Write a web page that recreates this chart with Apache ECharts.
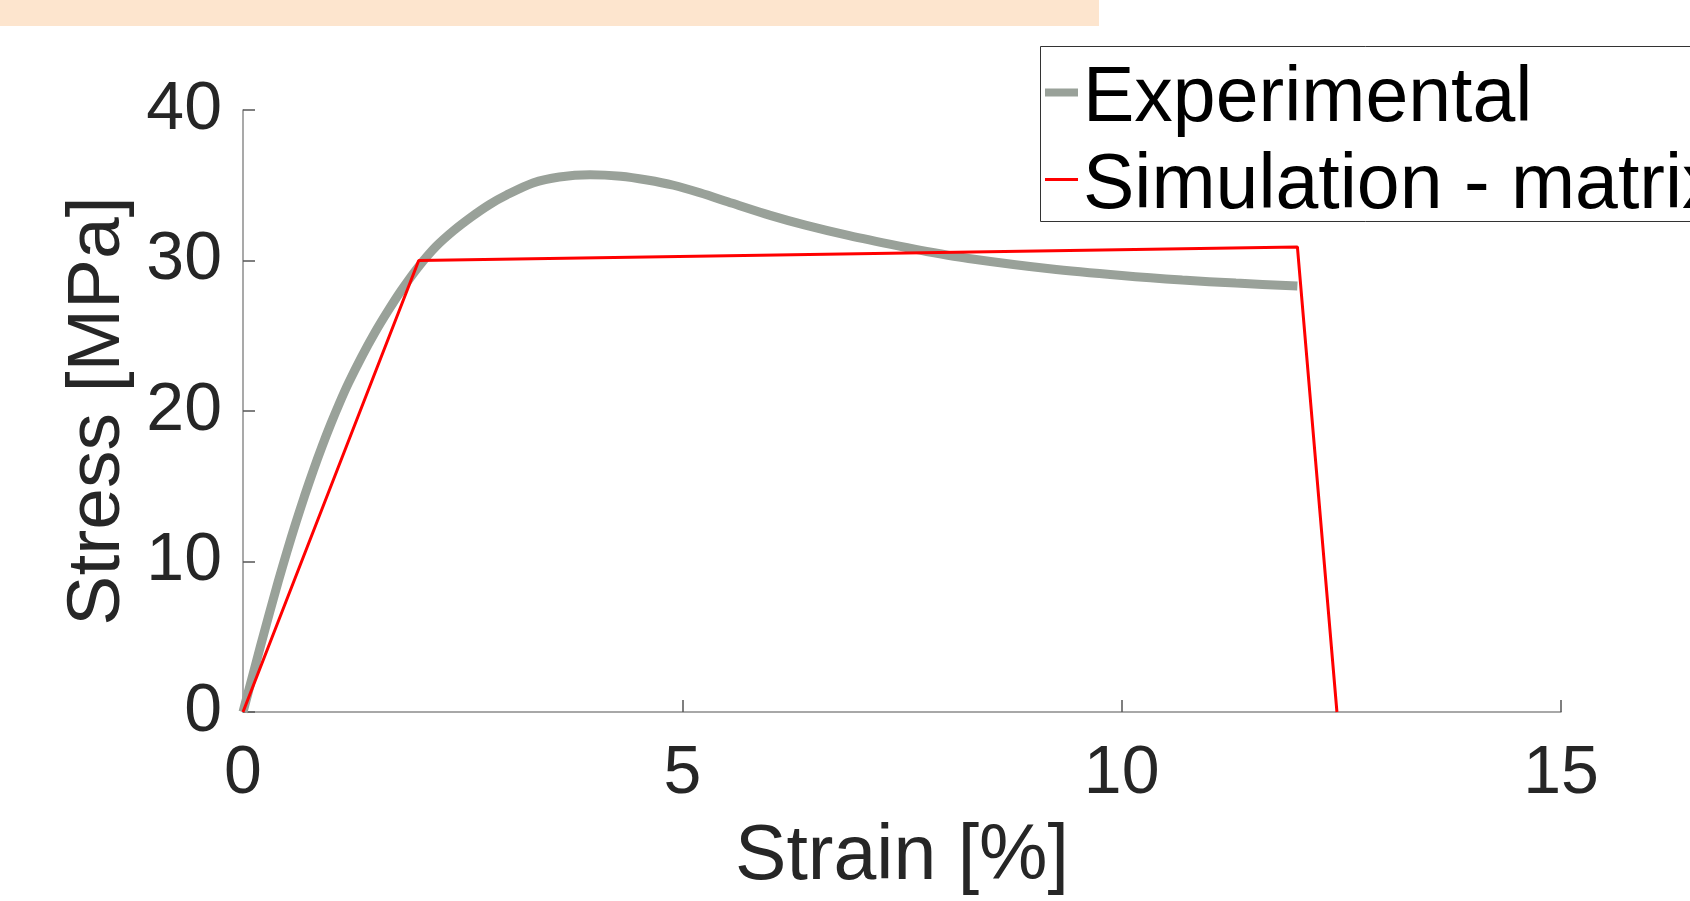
<!DOCTYPE html>
<html>
<head>
<meta charset="utf-8">
<script src="https://cdn.jsdelivr.net/npm/echarts@6/dist/echarts.min.js"></script>
<style>
html,body{margin:0;padding:0;background:#fff;}
#chart{width:1690px;height:901px;}
</style>
</head>
<body>
<div id="chart"></div>
<script>
// Data
const expStrain = [0, 0.1, 0.2, 0.3, 0.4, 0.5, 0.6, 0.7, 0.8, 0.9, 1.0, 1.1, 1.2, 1.35, 1.5, 1.65, 1.8, 2.0, 2.2, 2.4, 2.6, 2.8, 3.0, 3.3, 3.6, 3.95, 4.3, 4.6, 4.9, 5.2, 5.57, 6.0, 6.4, 6.9, 7.47, 7.78, 8.3, 9.18, 10.0, 10.69, 11.3, 12.0];
const expStress = [0, 2.2, 4.4, 6.55, 8.65, 10.65, 12.55, 14.35, 16.05, 17.65, 19.15, 20.55, 21.85, 23.6, 25.2, 26.65, 28.0, 29.6, 30.95, 32.0, 32.9, 33.7, 34.35, 35.15, 35.55, 35.7, 35.6, 35.35, 35.0, 34.5, 33.8, 33.0, 32.35, 31.65, 30.95, 30.6, 30.1, 29.45, 29.0, 28.7, 28.5, 28.3];
const simStrain = [0, 2.0, 12.0, 12.45];
const simStress = [0, 30.0, 30.9, 0];
const seriesNames = ['Experimental', 'Simulation - matrix'];
const xTicks = [0, 5, 10, 15];
const yTicks = [0, 10, 20, 30, 40];
const xName = 'Strain [%]';
const yName = 'Stress [MPa]';

const FONT = "'Liberation Sans', Arial, Helvetica, sans-serif";
const GRAY = '#99A199';
const RED = '#ff0000';
const chart = echarts.init(document.getElementById('chart'), null, {renderer: 'canvas'});

const zip = (a, b) => a.map((v, i) => [v, b[i]]);

const axisCommon = {
  axisLine: {show: true, lineStyle: {color: '#8c8c8c', width: 1.5}},
  axisTick: {show: true, inside: true, length: 12, lineStyle: {color: '#555', width: 1.5}},
  splitLine: {show: false},
  nameLocation: 'middle'
};

// legend sample lines: a bar inside a fixed 33x24 box (degenerate moves fix the box)
const iconGray = 'path://M0,0L0,0M33,24L33,24M0,1H33V9H0Z';
const iconRed = 'path://M0,0L0,0M33,24L33,24M0,3.5H33V6.5H0Z';

chart.setOption({
  animation: false,
  backgroundColor: '#ffffff',
  grid: {left: 243, top: 110, right: 129, bottom: 185, containLabel: false},
  graphic: [{
    type: 'rect', left: 0, top: 0, z: -10,
    shape: {x: 0, y: 0, width: 1099, height: 26},
    style: {fill: '#FDE5CE'}
  }, {
    type: 'rect', z: 5, silent: true,
    shape: {x: 1040.5, y: 46.5, width: 800, height: 175},
    style: {fill: '#ffffff', stroke: '#333333', lineWidth: 1}
  }],
  xAxis: Object.assign({}, axisCommon, {
    type: 'value', min: xTicks[0], max: xTicks[xTicks.length - 1], interval: 5,
    name: xName, nameGap: 107,
    nameTextStyle: {fontFamily: FONT, fontSize: 77, color: '#262626'},
    axisLabel: {fontFamily: FONT, fontSize: 68, color: '#262626', margin: 28, showMaxLabel: true, showMinLabel: true}
  }),
  yAxis: Object.assign({}, axisCommon, {
    type: 'value', min: yTicks[0], max: yTicks[yTicks.length - 1], interval: 10,
    name: yName, nameGap: 102,
    nameTextStyle: {fontFamily: FONT, fontSize: 75, color: '#262626'},
    axisLabel: {fontFamily: FONT, fontSize: 68, color: '#262626', margin: 21, showMaxLabel: true, showMinLabel: true}
  }),
  legend: {
    orient: 'vertical', left: 1040, top: 46, z: 10,
    padding: [15, 60, 0, 5], itemGap: 10,
    itemWidth: 33, itemHeight: 24,
    backgroundColor: 'transparent', borderWidth: 0,
    itemStyle: {borderWidth: 0},
    textStyle: {fontFamily: FONT, fontSize: 77, color: '#000'},
    data: [
      {name: seriesNames[0], icon: iconGray, itemStyle: {color: GRAY, borderWidth: 0}},
      {name: seriesNames[1], icon: iconRed, itemStyle: {color: RED, borderWidth: 0}}
    ]
  },
  series: [{
    name: seriesNames[0], type: 'line', data: zip(expStrain, expStress),
    smooth: 0.3, showSymbol: false, symbol: 'none',
    lineStyle: {color: GRAY, width: 9, cap: 'butt'},
    itemStyle: {color: GRAY}, z: 2
  }, {
    name: seriesNames[1], type: 'line', data: zip(simStrain, simStress),
    showSymbol: false, symbol: 'none',
    lineStyle: {color: RED, width: 3},
    itemStyle: {color: RED}, z: 3
  }]
});
</script>
</body>
</html>
